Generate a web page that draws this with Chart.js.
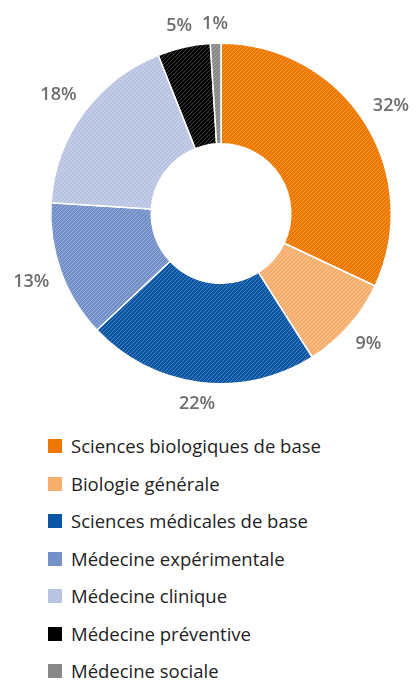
<!DOCTYPE html>
<html>
<head>
<meta charset="utf-8">
<script src="https://cdn.jsdelivr.net/npm/chart.js@4"></script>
<style>
html,body{margin:0;padding:0;background:#fff;}
body{width:419px;height:680px;overflow:hidden;position:relative;font-family:"Open Sans","Noto Sans",sans-serif;}
#wrap{position:absolute;left:0;top:0;width:419px;height:426px;}
#legend{position:absolute;left:48px;top:434px;margin:0;padding:0;list-style:none;}
#legend li{height:37.5px;display:flex;align-items:flex-start;font-size:18.5px;color:#222;line-height:24px;white-space:nowrap;}
#legend .sw{width:14px;height:14px;margin-right:9px;margin-top:5px;flex:none;}
</style>
</head>
<body>
<div id="wrap"><canvas id="c"></canvas></div>
<ul id="legend"></ul>
<script>
const categories = ["Sciences biologiques de base","Biologie générale","Sciences médicales de base","Médecine expérimentale","Médecine clinique","Médecine préventive","Médecine sociale"];
const values = [32, 9, 22, 13, 18, 5, 1];
const valueLabels = ["32%","9%","22%","13%","18%","5%","1%"];
const colors = ["#EE7700","#F6AE6D","#0A56A4","#7391C8","#B8C4E2","#000000","#878787"];

function hatch(color){
  const s = 4;
  const c = document.createElement('canvas');
  c.width = s; c.height = s;
  const g = c.getContext('2d');
  g.fillStyle = color; g.fillRect(0,0,s,s);
  g.strokeStyle = 'rgba(255,255,255,0.25)';
  g.lineWidth = 1;
  g.beginPath();
  g.moveTo(-1, s+1); g.lineTo(s+1, -1);
  g.moveTo(-1, 1); g.lineTo(1, -1);
  g.moveTo(s-1, s+1); g.lineTo(s+1, s-1);
  g.stroke();
  return g.createPattern(c, 'repeat');
}

const labelPlugin = {
  id: 'outLabels',
  afterDatasetsDraw(chart){
    const ctx = chart.ctx;
    const meta = chart.getDatasetMeta(0);
    ctx.save();
    ctx.font = '600 18px "Open Sans", sans-serif';
    ctx.fillStyle = '#6e6e6e';
    ctx.textAlign = 'center';
    ctx.textBaseline = 'middle';
    meta.data.forEach((arc, i) => {
      const p = arc.getProps(['x','y','startAngle','endAngle','outerRadius'], true);
      const a = (p.startAngle + p.endAngle) / 2;
      const w = ctx.measureText(valueLabels[i]).width;
      const r = p.outerRadius + 12 + (w / 2) * Math.abs(Math.cos(a)) + 7 * Math.abs(Math.sin(a));
      ctx.fillText(valueLabels[i], p.x + Math.cos(a) * r, p.y + Math.sin(a) * r);
    });
    ctx.restore();
  }
};

new Chart(document.getElementById('c'), {
  type: 'doughnut',
  data: {
    labels: categories,
    datasets: [{
      data: values,
      backgroundColor: colors.map(hatch),
      borderColor: '#ffffff',
      borderWidth: 1.5
    }]
  },
  options: {
    responsive: true,
    maintainAspectRatio: false,
    animation: false,
    cutout: '41%',
    layout: { padding: { top: 42, bottom: 41, left: 50, right: 27 } },
    plugins: { legend: { display: false }, tooltip: { enabled: false } }
  },
  plugins: [labelPlugin]
});

const ul = document.getElementById('legend');
categories.forEach((name, i) => {
  const li = document.createElement('li');
  const sw = document.createElement('span');
  sw.className = 'sw';
  sw.style.background = colors[i];
  li.appendChild(sw);
  li.appendChild(document.createTextNode(name));
  ul.appendChild(li);
});
</script>
</body>
</html>
